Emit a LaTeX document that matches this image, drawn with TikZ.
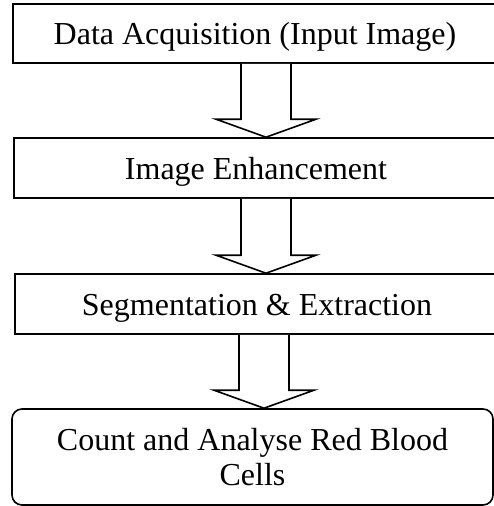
\documentclass[tikz,border=0pt]{standalone}
\usepackage{fontspec}
\setmainfont{Liberation Serif}
\usepackage{tikz}
\usetikzlibrary{calc}

\begin{document}
\begin{tikzpicture}[x=1pt,y=-1pt,line width=1.6pt,
  stepbox/.style={draw=black,rectangle,minimum width=484pt,minimum height=59pt,
    inner sep=0pt,text height=28pt,text depth=6pt,font=\fontsize{32}{35}\selectfont},
  endbox/.style={draw=black,rectangle,rounded corners=10pt,minimum width=481pt,
    minimum height=96pt,inner sep=0pt,align=center,font=\fontsize{32}{35}\selectfont},
  blockarrow/.style={draw=black,fill=white,line join=miter}]
\useasboundingbox (0,0) rectangle (494,506);
\node [stepbox] (acq) at (255,33.5) {Data Acquisition (Input Image)};
\node [stepbox,minimum height=60pt] (enh) at (256,168) {Image Enhancement};
\node [stepbox,minimum height=60pt] (seg) at (257,304) {Segmentation \& Extraction};
\node [endbox] (count) at (252.5,457) {Count and Analyse Red Blood\\Cells};
\coordinate (c1) at (266,0);
\coordinate (c2) at (266,0);
\coordinate (c3) at (264,0);
\draw [blockarrow] ([xshift=-25pt]c1 |- acq.south) -- ([shift={(-25,-18)}]c1 |- enh.north) -- ([shift={(-50,-18)}]c1 |- enh.north) -- (c1 |- enh.north) -- ([shift={(50,-18)}]c1 |- enh.north) -- ([shift={(25,-18)}]c1 |- enh.north) -- ([xshift=25pt]c1 |- acq.south);
\draw [blockarrow] ([xshift=-25pt]c2 |- enh.south) -- ([shift={(-25,-18)}]c2 |- seg.north) -- ([shift={(-50,-18)}]c2 |- seg.north) -- (c2 |- seg.north) -- ([shift={(50,-18)}]c2 |- seg.north) -- ([shift={(25,-18)}]c2 |- seg.north) -- ([xshift=25pt]c2 |- enh.south);
\draw [blockarrow] ([xshift=-25pt]c3 |- seg.south) -- ([shift={(-25,-18)}]c3 |- count.north) -- ([shift={(-50,-18)}]c3 |- count.north) -- (c3 |- count.north) -- ([shift={(50,-18)}]c3 |- count.north) -- ([shift={(25,-18)}]c3 |- count.north) -- ([xshift=25pt]c3 |- seg.south);
\end{tikzpicture}
\end{document}
